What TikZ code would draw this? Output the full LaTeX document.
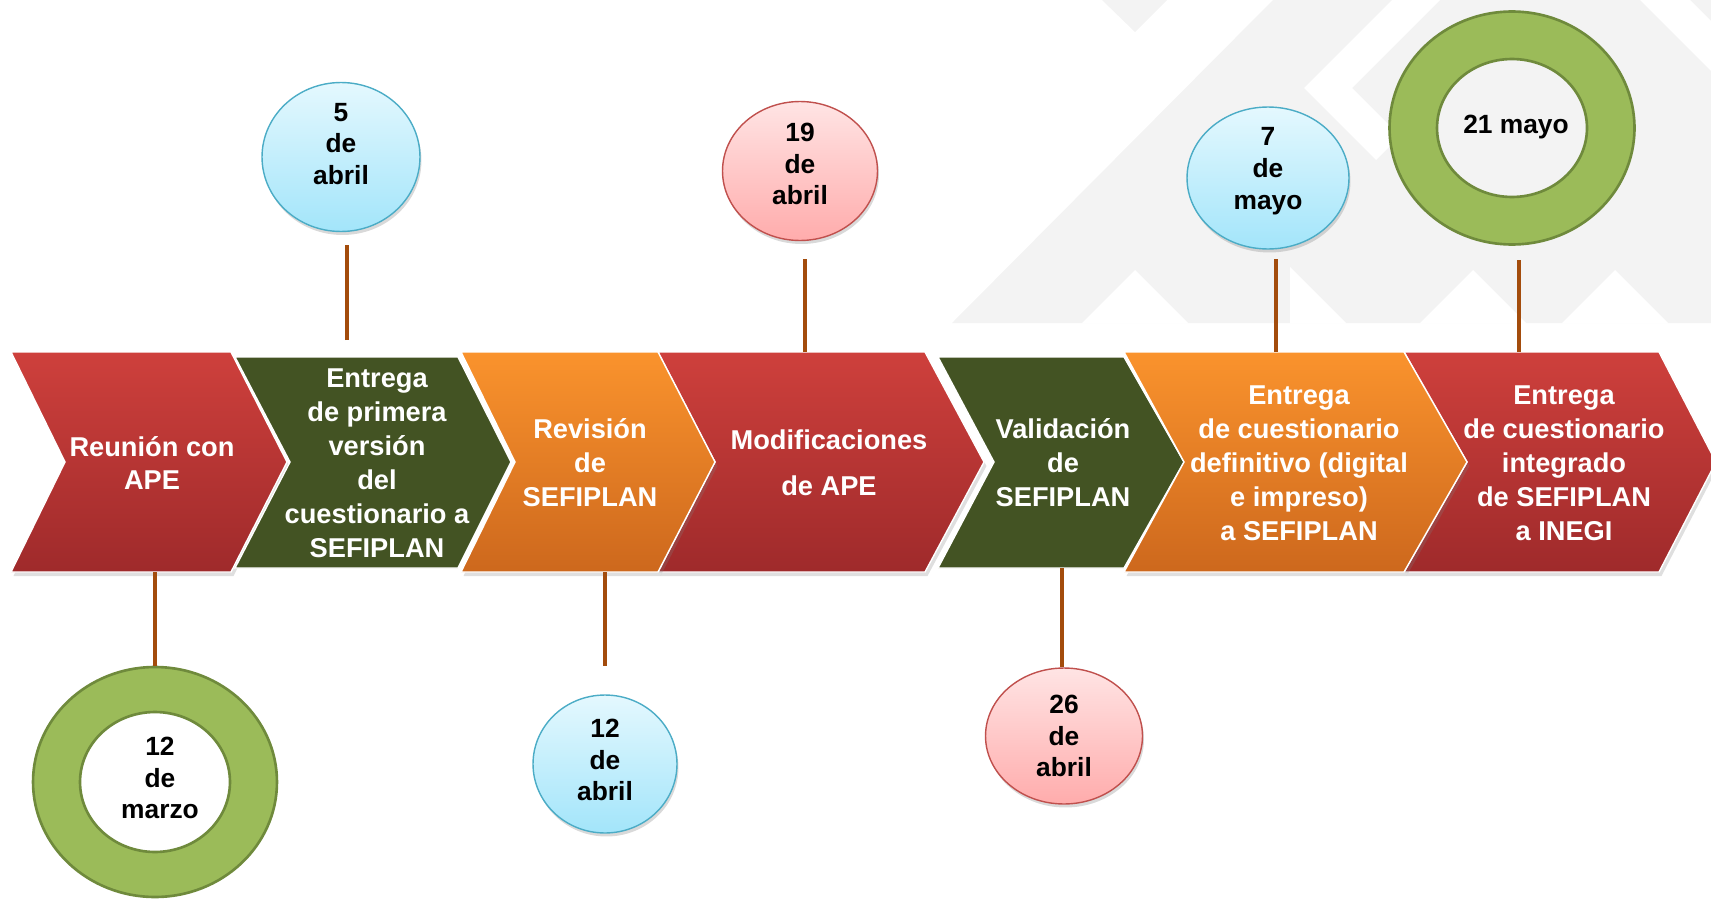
\documentclass[tikz,border=0pt]{standalone}
\usepackage{fontspec}
\setmainfont{Liberation Sans}
\usetikzlibrary{shapes.geometric,shadows}

\definecolor{redtop}{HTML}{CE403C}
\definecolor{redbot}{HTML}{9F2A2B}
\definecolor{orgtop}{HTML}{FA932D}
\definecolor{orgbot}{HTML}{CD681D}
\definecolor{olive}{HTML}{435323}
\definecolor{stembrown}{HTML}{A34C0C}
\definecolor{blutop}{HTML}{E4F8FE}
\definecolor{blubot}{HTML}{A3E5FA}
\definecolor{bluedge}{HTML}{4BACC6}
\definecolor{pnktop}{HTML}{FFE4E4}
\definecolor{pnkbot}{HTML}{FFACAC}
\definecolor{pnkedge}{HTML}{C0504D}
\definecolor{ringgreen}{HTML}{9BBB59}
\definecolor{ringedge}{HTML}{6F8A3C}
\definecolor{bggray}{HTML}{F3F3F3}

\tikzset{
  chevtext/.style={text=white, font=\fontsize{15.5}{19.3}\selectfont\bfseries, align=center, inner sep=0},
  datetext/.style={text=black, font=\fontsize{15}{18.1}\selectfont\bfseries, align=center, inner sep=0},
  chevshadow/.style={drop shadow={opacity=0.25, shadow xshift=0.05cm, shadow yshift=-0.08cm}},
  redchev/.style={top color=redtop, bottom color=redbot, draw=white, line width=0.8pt, chevshadow},
  orgchev/.style={top color=orgtop, bottom color=orgbot, draw=white, line width=0.8pt, chevshadow},
  grnchev/.style={fill=olive, draw=white, line width=0.8pt},
  bluedate/.style={ellipse, inner sep=0, draw=bluedge, line width=0.8pt, top color=blutop, bottom color=blubot,
    drop shadow={opacity=0.3, shadow xshift=0.03cm, shadow yshift=-0.07cm}},
  pinkdate/.style={ellipse, inner sep=0, draw=pnkedge, line width=0.8pt, top color=pnktop, bottom color=pnkbot,
    drop shadow={opacity=0.3, shadow xshift=0.03cm, shadow yshift=-0.07cm}},
  ringout/.style={ellipse, inner sep=0, draw=ringedge, line width=1.5pt, fill=ringgreen},
  ringin/.style={ellipse, inner sep=0, draw=ringedge, line width=1.5pt},
  stem/.style={draw=stembrown, line width=2.1pt},
}

\begin{document}
\begin{tikzpicture}[x=0.02cm, y=-0.02cm]
    \useasboundingbox (0,0) rectangle (1711,899);

    % faint background pattern
    \fill[bggray] (1273,0) -- (1711,0) -- (1711,323) -- (952,323) -- cycle;
    \fill[bggray] (1102,0) -- (1167,0) -- (1135,32) -- cycle;
    \fill[white] (1082,323) -- (1135,270) -- (1188,323) -- cycle;
    \fill[white] (1420,323) -- (1473,270) -- (1526,323) -- cycle;
    \fill[white] (1562,323) -- (1615,270) -- (1668,323) -- cycle;
    \fill[white] (1290,323) -- (1290,267) -- (1346,323) -- cycle;
    \fill[white] (1392,0) -- (1440,0) -- (1352,88) -- (1400,136) -- (1376,160) -- (1304,88) -- cycle;
    \fill[white] (1640,0) -- (1690,0) -- (1711,21) -- (1711,71) -- cycle;

    % chevrons
    \path[redchev] (11,352) -- (231,352) -- (287,462) -- (231,572) -- (11,572) -- (65,462) -- cycle;
    \path[grnchev] (235,357) -- (458,357) -- (511,462) -- (458,568) -- (235,568) -- (290,462) -- cycle;
    \path[redchev] (658,352) -- (925,352) -- (984,462) -- (925,572) -- (658,572) -- (715,462) -- cycle;
    \path[orgchev] (461,352) -- (658,352) -- (715,462) -- (658,572) -- (461,572) -- (515,462) -- cycle;
    \path[grnchev] (938,357) -- (1124,357) -- (1184,462) -- (1124,568) -- (938,568) -- (994,462) -- cycle;
    \path[redchev] (1404,352) -- (1659,352) -- (1716,462) -- (1659,572) -- (1404,572) -- (1467,462) -- cycle;
    \path[orgchev] (1124,352) -- (1404,352) -- (1467,462) -- (1404,572) -- (1124,572) -- (1184,462) -- cycle;

    \node[chevtext] (reunion) at (152,463) {Reunión con\\APE};
    \node[chevtext] (primera) at (377,463) {Entrega\\de primera\\versión\\del\\cuestionario a\\SEFIPLAN};
    \node[chevtext] (revision) at (590,463) {Revisión\\de\\SEFIPLAN};
    \node[chevtext] (modif) at (829,463) {Modificaciones\\[0.24cm]de APE};
    \node[chevtext] (valida) at (1063,463) {Validación\\de\\SEFIPLAN};
    \node[chevtext] (definitivo) at (1299,463) {Entrega\\de cuestionario\\definitivo (digital\\e impreso)\\a SEFIPLAN};
    \node[chevtext] (integrado) at (1564,463) {Entrega\\de cuestionario\\integrado\\de SEFIPLAN\\a INEGI};

    % dates above
    \node[bluedate, minimum width=3.16cm, minimum height=2.98cm] (d5abr) at (341,157) {};
    \node[datetext] (t5abr) at ([yshift=0.26cm]d5abr.center) {5\\de\\abril};

    \node[pinkdate, minimum width=3.1cm, minimum height=2.78cm] (d19abr) at (800,171) {};
    \node[datetext] (t19abr) at ([yshift=0.14cm]d19abr.center) {19\\de\\abril};

    \node[bluedate, minimum width=3.24cm, minimum height=2.84cm] (d7may) at (1268,178) {};
    \node[datetext] (t7may) at ([yshift=0.14cm]d7may.center) {7\\de\\mayo};

    \node[ringout, minimum width=4.9cm, minimum height=4.66cm] (r21may) at (1512,128) {};
    \node[ringin, fill=bggray, minimum width=3.0cm, minimum height=2.76cm] (h21may) at (1512,128) {};
    \node[datetext] (t21may) at (1516,127) {21 mayo};

    % dates below
    \node[ringout, minimum width=4.88cm, minimum height=4.6cm] (r12mar) at (155,782) {};
    \node[ringin, fill=white, minimum width=3.0cm, minimum height=2.8cm] (h12mar) at (155,782) {};
    \node[datetext] (t12mar) at (160,778) {12\\de\\marzo};

    \node[bluedate, minimum width=2.88cm, minimum height=2.76cm] (d12abr) at (605,764) {};
    \node[datetext] (t12abr) at ([yshift=0.08cm]d12abr.center) {12\\de\\abril};

    \node[pinkdate, minimum width=3.14cm, minimum height=2.72cm] (d26abr) at (1064,736) {};
    \node[datetext] (t26abr) at (d26abr.center) {26\\de\\abril};

    % stems
    \coordinate (s5abr) at (347,340);
    \coordinate (s19abr) at (805,352);
    \coordinate (s7may) at (1276,352);
    \coordinate (s21may) at (1519,352);
    \coordinate (s12mar) at (155,572);
    \coordinate (s12abr) at (605,572);
    \coordinate (s26abr) at (1062,568);

    \draw[stem, shorten >=0.26cm] (s5abr) -- (s5abr |- d5abr.south);
    \draw[stem, shorten >=0.36cm] (s19abr) -- (s19abr |- d19abr.south);
    \draw[stem, shorten >=0.18cm] (s7may) -- (s7may |- d7may.south);
    \draw[stem, shorten >=0.28cm] (s21may) -- (s21may |- r21may.south);
    \draw[stem] (s12mar) -- (s12mar |- r12mar.north);
    \draw[stem, shorten >=0.56cm] (s12abr) -- (s12abr |- d12abr.north);
    \draw[stem] (s26abr) -- (s26abr |- d26abr.north);
\end{tikzpicture}
\end{document}
